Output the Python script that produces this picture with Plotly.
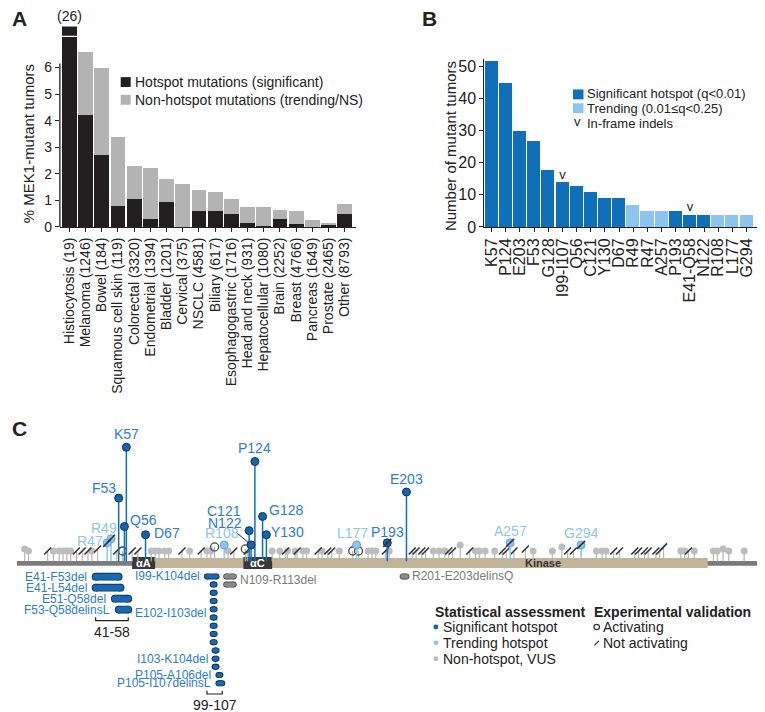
import plotly.graph_objects as go

W, H = 765, 712
def fx(px): return px / W
def fy(py): return 1 - py / H

FONT = "Arial, Liberation Sans, sans-serif"
TXT = "#222222"
BLACK_BAR = "#231f20"; GRAY_BAR = "#b3b3b3"
SIG = "#0f6fb8"; TREND = "#8cc6ee"
SIG_HEAD = "#1664ad"; SIG_EDGE = "#0b355e"
TREND_EDGE = "#62a3d6"
SIG_TXT = "#2b7dcc"; TREND_TXT = "#8fc5ec"
VUS = "#bdbdbd"; VUS_STEM = "#b5b5b5"

# ---------------- Panel A data ----------------
cancer_types = ["Histiocytosis", "Melanoma", "Bowel", "Squamous cell skin", "Colorectal",
                "Endometrial", "Bladder", "Cervical", "NSCLC", "Biliary", "Esophagogastric",
                "Head and neck", "Hepatocellular", "Brain", "Breast", "Pancreas", "Prostate", "Other"]
n_patients = [19, 1246, 184, 119, 3320, 1394, 1201, 375, 4581, 617, 1716, 931, 1080, 2252,
              4766, 1649, 2465, 8793]
hotspot_pct = [26.0, 4.2, 2.7, 0.8, 1.05, 0.3, 0.95, 0.0, 0.6, 0.6, 0.5, 0.15, 0.05, 0.3,
               0.1, 0.0, 0.08, 0.5]
nonhotspot_pct = [0.0, 2.4, 3.3, 2.6, 1.25, 1.9, 0.85, 1.62, 0.78, 0.73, 0.55, 0.6, 0.7, 0.35,
                  0.5, 0.25, 0.08, 0.35]

# ---------------- Panel B data ----------------
hotspots = ["K57", "P124", "E203", "F53", "G128", "I99-I107", "Q56", "C121", "Y130", "D67",
            "R49", "R47", "A257", "P193", "E41-Q58", "N122", "R108", "L177", "G294"]
hotspot_counts = [52, 45, 30, 27, 18, 14, 13, 11, 9, 9, 7, 5, 5, 5, 4, 4, 4, 4, 4]
hotspot_class = ["sig"] * 10 + ["trend", "trend", "trend", "sig", "sig", "sig",
                                "trend", "trend", "trend"]
indel_hotspots = ["I99-I107", "E41-Q58"]
not_activating_hotspots = ["R47", "R49", "P193", "A257", "G294"]

# ---------------- Panel C data ----------------
protein_length = 393
domains = [("Kinase", 60, 360)]
helices = [("αA", 60, 72), ("αC", 118, 133)]

vus_pos = [4, 6, 19, 22, 24, 26, 28, 39, 70, 72, 74, 77, 79, 90, 99, 101, 110, 133, 137, 141,
           145, 149, 151, 159, 168, 183, 185, 187, 194, 217, 220, 223, 231, 239, 241, 244, 249,
           269, 279, 284, 302, 305, 307, 346, 348, 353, 363, 365, 368, 371, 379, 390, 393]
vus_counts = [2, 1, 1, 1, 1, 1, 1, 1, 1, 1, 1, 1, 1, 1, 1, 1, 1, 1, 1, 1,
              1, 1, 1, 1, 1, 1, 1, 1, 1, 1, 1, 1, 4, 1, 1, 1, 1,
              1, 1, 3, 1, 1, 1, 1, 1, 1, 1, 1, 2, 1, 1, 1, 1]
not_activating_pos = [16, 31, 34, 37, 42, 52, 60, 63, 86, 96, 113, 120, 140, 146, 157, 162,
                      164, 192, 206, 208, 211, 213, 225, 227, 236, 253, 255, 259, 265, 287,
                      290, 311, 314, 322, 324, 327, 329, 333, 335, 337, 350]
not_activating_counts = [1, 1, 1, 1, 2, 1, 1, 1, 1, 1, 1, 1, 1, 1, 1, 1,
                         1, 1, 1, 1, 1, 1, 1, 1, 1, 1, 1, 1, 2, 1,
                         1, 1, 1, 1, 1, 1, 1, 1, 1, 3, 1]
activating_pos = [55, 103, 119, 175, 178]
activating_counts = [1, 3, 2, 1, 1]

del_left_names = ["E41-F53del", "E41-L54del", "E51-Q58del", "F53-Q58delinsL"]
del_left_start = [41, 41, 51, 53]
del_left_end = [53, 54, 58, 58]
del_right_names = ["I99-K104del", "E102-I103del", "I103-K104del", "P105-A106del", "P105-I107delinsL"]
del_right_start = [99, 102, 103, 105, 105]
del_right_end = [104, 103, 104, 106, 107]
del_right_counts = [1, 8, 3, 1, 1]
del_vus_names = ["N109-R113del", "R201-E203delinsQ"]
del_vus_start = [109, 201]
del_vus_end = [113, 203]
del_vus_counts = [2, 1]
indel_clusters = [(41, 58), (99, 107)]

fig = go.Figure()

# ================= Panel A =================
labelsA = [f"{c} ({n})" for c, n in zip(cancer_types, n_patients)]
xA = list(range(len(labelsA)))
fig.add_bar(x=xA, y=hotspot_pct, marker=dict(color=BLACK_BAR, line=dict(width=0)), width=0.92,
            xaxis="x", yaxis="y")
fig.add_bar(x=xA, y=nonhotspot_pct, marker=dict(color=GRAY_BAR, line=dict(width=0)), width=0.92,
            xaxis="x", yaxis="y")
fig.add_bar(x=xA, y=hotspot_pct, marker=dict(color=BLACK_BAR, line=dict(width=0)), width=0.92,
            xaxis="x", yaxis="y2")

# ================= Panel B =================
xB = list(range(len(hotspots)))
colB = [SIG if c == "sig" else TREND for c in hotspot_class]
fig.add_bar(x=xB, y=hotspot_counts, marker=dict(color=colB, line=dict(width=0)), width=0.92,
            xaxis="x2", yaxis="y3")
ind_x = [i for i, h in enumerate(hotspots) if h in indel_hotspots]
ind_y = [hotspot_counts[i] for i in ind_x]
fig.add_scatter(x=ind_x, y=ind_y, mode="text", text=["v"] * len(ind_x),
                textposition="top center", textfont=dict(size=13, color=TXT, family=FONT),
                xaxis="x2", yaxis="y3")

# ================= Panel C =================
def res_num(name):
    return int("".join(ch for ch in name[1:] if ch.isdigit()))

STEM_BASE = -4
lol = [(h, res_num(h), c, k) for h, c, k in zip(hotspots, hotspot_counts, hotspot_class)
       if h not in indel_hotspots]

def stems(positions, counts):
    xs, ys = [], []
    for p, c in zip(positions, counts):
        xs += [p, p, None]
        ys += [STEM_BASE, c, None]
    return xs, ys

allg_pos = vus_pos + not_activating_pos + activating_pos
allg_cnt = vus_counts + not_activating_counts + activating_counts
sx, sy = stems(allg_pos, allg_cnt)
fig.add_scatter(x=sx, y=sy, mode="lines", line=dict(color=VUS_STEM, width=1.2),
                xaxis="x3", yaxis="y4")
fig.add_scatter(x=vus_pos, y=vus_counts, mode="markers",
                marker=dict(color=VUS, size=7, line=dict(width=0)), xaxis="x3", yaxis="y4")
fig.add_scatter(x=not_activating_pos, y=not_activating_counts, mode="markers",
                marker=dict(symbol="line-ne", size=7, line=dict(width=1.6, color="#333333")),
                xaxis="x3", yaxis="y4")
fig.add_scatter(x=activating_pos, y=activating_counts, mode="markers",
                marker=dict(symbol="circle-open", size=8, color="#444444", line=dict(width=1.3)),
                xaxis="x3", yaxis="y4")

for cls, scol, fcol, ecol in [("trend", TREND, TREND, TREND_EDGE), ("sig", SIG, SIG_HEAD, SIG_EDGE)]:
    items = [t for t in lol if t[3] == cls]
    sx, sy = stems([t[1] for t in items], [t[2] for t in items])
    fig.add_scatter(x=sx, y=sy, mode="lines", line=dict(color=scol, width=1.5),
                    xaxis="x3", yaxis="y4")
    fig.add_scatter(x=[t[1] for t in items], y=[t[2] for t in items], mode="markers",
                    marker=dict(color=fcol, size=8, line=dict(width=1, color=ecol)),
                    xaxis="x3", yaxis="y4")

na_items = [t for t in lol if t[0] in not_activating_hotspots]
fig.add_scatter(x=[t[1] for t in na_items], y=[t[2] for t in na_items], mode="markers",
                marker=dict(symbol="line-ne", size=8, line=dict(width=1.6, color="#333333")),
                xaxis="x3", yaxis="y4")

def pill_traces(starts, ends, rows, fill, edge, w, yaxis):
    xs, ys = [], []
    for s, e, r in zip(starts, ends, rows):
        xs += [s, e, None]
        ys += [r, r, None]
    fig.add_scatter(x=xs, y=ys, mode="lines+markers", line=dict(color=edge, width=w + 1.8),
                    marker=dict(color=edge, size=w + 1.8), xaxis="x3", yaxis=yaxis)
    fig.add_scatter(x=xs, y=ys, mode="lines+markers", line=dict(color=fill, width=w),
                    marker=dict(color=fill, size=w), xaxis="x3", yaxis=yaxis)

DEL_FILL = "#1a68b0"; DEL_EDGE = "#0d3458"
left_rows = list(range(len(del_left_names)))
pill_traces(del_left_start, del_left_end, left_rows, DEL_FILL, DEL_EDGE, 6, "y5")

r_starts, r_ends, r_rows, r_centers = [], [], [], []
row = 0
for s, e, n in zip(del_right_start, del_right_end, del_right_counts):
    r_centers.append(row + (n - 1) / 2)
    for _ in range(n):
        r_starts.append(s); r_ends.append(e); r_rows.append(row)
        row += 1
pill_traces(r_starts, r_ends, r_rows, DEL_FILL, DEL_EDGE, 4.2, "y6")

g_starts, g_ends, g_rows, g_centers = [], [], [], []
for s, e, n in zip(del_vus_start, del_vus_end, del_vus_counts):
    g_centers.append((n - 1) / 2)
    for k in range(n):
        g_starts.append(s); g_ends.append(e); g_rows.append(k)
pill_traces(g_starts, g_ends, g_rows, "#8a8a8a", "#555555", 4.2, "y6")

# ================= Layout =================
annotations = []
shapes = []

def ann(**kw):
    base = dict(showarrow=False, xanchor="center", yanchor="middle",
                font=dict(family=FONT, size=14, color=TXT))
    if "font" in kw:
        f = dict(base["font"]); f.update(kw.pop("font")); base["font"] = f
    base.update(kw)
    annotations.append(base)

# panel letters
ann(x=fx(10), y=fy(11), xref="paper", yref="paper", text="<b>A</b>", font=dict(size=21))
ann(x=fx(421), y=fy(11), xref="paper", yref="paper", text="<b>B</b>", font=dict(size=21))
ann(x=fx(10), y=fy(426), xref="paper", yref="paper", text="<b>C</b>", font=dict(size=21))

# A axis line, break label, titles, legend
shapes.append(dict(type="line", xref="paper", yref="y", x0=fx(50), x1=fx(50), y0=0, y1=6.15,
                   line=dict(color=TXT, width=1.3)))
ann(x=0, y=hotspot_pct[0] + nonhotspot_pct[0], xref="x", yref="y2", yanchor="bottom", yshift=0,
    text=f"({hotspot_pct[0] + nonhotspot_pct[0]:g})")
ann(x=fx(18), y=fy(137), xref="paper", yref="paper", text="% MEK1-mutant tumors",
    textangle=-90, font=dict(size=15))
shapes.append(dict(type="rect", xref="paper", yref="paper", x0=fx(111), x1=fx(121), y0=fy(80),
                   y1=fy(70), fillcolor=BLACK_BAR, line=dict(width=0)))
shapes.append(dict(type="rect", xref="paper", yref="paper", x0=fx(111), x1=fx(121), y0=fy(98),
                   y1=fy(88), fillcolor=GRAY_BAR, line=dict(width=0)))
ann(x=fx(123), y=fy(74.5), xref="paper", yref="paper", xanchor="left",
    text="Hotspot mutations (significant)")
ann(x=fx(123), y=fy(93), xref="paper", yref="paper", xanchor="left",
    text="Non-hotspot mutations (trending/NS)")

# B titles and legend
ann(x=fx(441), y=fy(140), xref="paper", yref="paper", text="Number of mutant tumors",
    textangle=-90, font=dict(size=15))
shapes.append(dict(type="rect", xref="paper", yref="paper", x0=fx(564.5), x1=fx(575), y0=fy(92.5),
                   y1=fy(82.5), fillcolor=SIG, line=dict(width=0)))
shapes.append(dict(type="rect", xref="paper", yref="paper", x0=fx(564.5), x1=fx(575), y0=fy(106.5),
                   y1=fy(96.5), fillcolor=TREND, line=dict(width=0)))
ann(x=fx(576.5), y=fy(87), xref="paper", yref="paper", xanchor="left",
    text="Significant hotspot (q<0.01)", font=dict(size=13))
ann(x=fx(576.5), y=fy(101.5), xref="paper", yref="paper", xanchor="left",
    text="Trending (0.01≤q<0.25)", font=dict(size=13))
ann(x=fx(569), y=fy(115), xref="paper", yref="paper", text="v", font=dict(size=13))
ann(x=fx(576.5), y=fy(116.5), xref="paper", yref="paper", xanchor="left",
    text="In-frame indels", font=dict(size=13))

# C backbone
shapes.append(dict(type="rect", xref="x3", yref="y4", x0=0, x1=protein_length, y0=-3.9, y1=-6.3,
                   fillcolor="#7b7b7b", line=dict(width=0), layer="below"))
for name, s, e in domains:
    shapes.append(dict(type="rect", xref="x3", yref="y4", x0=s, x1=e, y0=-2.4, y1=-7.3,
                       fillcolor="#c3b497", line=dict(width=0), layer="below"))
    ann(x=274, y=-4.85, xref="x3", yref="y4", text=f"<b>{name}</b>",
        font=dict(size=11, color="#333333"))
for name, s, e in helices:
    shapes.append(dict(type="rect", xref="x3", yref="y4", x0=s, x1=e, y0=-1.9, y1=-7.8,
                       fillcolor="#383838", line=dict(width=0), layer="below"))
    ann(x=(s + e) / 2, y=-4.85, xref="x3", yref="y4", text=f"<b>{name}</b>",
        font=dict(size=11, color="white"))

label_style = {
    "K57": dict(xanchor="center", yanchor="bottom", xshift=0, yshift=3),
    "P124": dict(xanchor="center", yanchor="bottom", xshift=0, yshift=3),
    "E203": dict(xanchor="center", yanchor="bottom", xshift=0, yshift=3),
    "F53": dict(xanchor="right", yanchor="middle", xshift=-1, yshift=10),
    "G128": dict(xanchor="left", yanchor="middle", xshift=4, yshift=6),
    "Q56": dict(xanchor="left", yanchor="middle", xshift=4, yshift=7),
    "C121": dict(xanchor="right", yanchor="middle", xshift=-6, yshift=20),
    "Y130": dict(xanchor="left", yanchor="middle", xshift=3, yshift=3),
    "D67": dict(xanchor="left", yanchor="middle", xshift=6, yshift=2),
    "R49": dict(xanchor="center", yanchor="middle", xshift=-7, yshift=11),
    "R47": dict(xanchor="right", yanchor="middle", xshift=-2, yshift=2),
    "R108": dict(xanchor="center", yanchor="bottom", xshift=-2, yshift=2),
    "L177": dict(xanchor="center", yanchor="bottom", xshift=-4, yshift=2),
    "P193": dict(xanchor="center", yanchor="bottom", xshift=0, yshift=1),
    "A257": dict(xanchor="center", yanchor="bottom", xshift=0, yshift=2),
    "G294": dict(xanchor="center", yanchor="bottom", xshift=0, yshift=2),
}
for h, p, c, k in lol:
    col = SIG_TXT if k == "sig" else TREND_TXT
    if h == "N122":
        annotations.append(dict(x=p, y=c, xref="x3", yref="y4", text=h, showarrow=True,
                                ax=-26, ay=-22, arrowhead=0, arrowwidth=1, arrowcolor=TXT,
                                standoff=3, font=dict(family=FONT, size=14, color=col)))
    else:
        ann(x=p, y=c, xref="x3", yref="y4", text=h, font=dict(color=col), **label_style[h])

for nm, s, r in zip(del_left_names, del_left_start, left_rows):
    ann(x=s, y=r, xref="x3", yref="y5", text=nm, xanchor="right", xshift=-7,
        font=dict(size=12, color=SIG_TXT))
for nm, s, rc in zip(del_right_names, del_right_start, r_centers):
    ann(x=s, y=rc, xref="x3", yref="y6", text=nm, xanchor="right", xshift=-5,
        font=dict(size=12, color=SIG_TXT))
for nm, e, rc in zip(del_vus_names, del_vus_end, g_centers):
    ann(x=e, y=rc, xref="x3", yref="y6", text=nm, xanchor="left", xshift=4,
        font=dict(size=12, color="#7a7a7a"))

for (s, e), yax, rowb in [(indel_clusters[0], "y5", 4.0), (indel_clusters[1], "y6", 14.3)]:
    dr = 0.3 if yax == "y5" else 0.4
    shapes.append(dict(type="path", xref="x3", yref=yax,
                       path=f"M {s} {rowb - dr} L {s} {rowb} L {e} {rowb} L {e} {rowb - dr}",
                       line=dict(color=TXT, width=1.2)))
    ann(x=(s + e) / 2, y=rowb, xref="x3", yref=yax, yanchor="top", yshift=-1,
        text=f"{s}-{e}", font=dict(size=14))

# C legend
ann(x=fx(424), y=fy(612), xref="paper", yref="paper", xanchor="left",
    text="<b>Statistical assessment</b>")
ann(x=fx(584), y=fy(612), xref="paper", yref="paper", xanchor="left",
    text="<b>Experimental validation</b>")
for lbl, col, yy in [("Significant hotspot", SIG_HEAD, 627), ("Trending hotspot", TREND, 643),
                     ("Non-hotspot, VUS", VUS, 659)]:
    shapes.append(dict(type="circle", xref="paper", yref="paper", x0=fx(424.5), x1=fx(429.5),
                       y0=fy(yy + 2.5), y1=fy(yy - 2.5), fillcolor=col, line=dict(width=0)))
    ann(x=fx(432), y=fy(yy), xref="paper", yref="paper", xanchor="left", text=lbl)
shapes.append(dict(type="circle", xref="paper", yref="paper", x0=fx(585.5), x1=fx(591),
                   y0=fy(629.7), y1=fy(624.2), line=dict(color="#333333", width=1.2)))
ann(x=fx(593), y=fy(627), xref="paper", yref="paper", xanchor="left", text="Activating")
shapes.append(dict(type="line", xref="paper", yref="paper", x0=fx(586), x1=fx(590.5),
                   y0=fy(645.5), y1=fy(641), line=dict(color="#333333", width=1.3)))
ann(x=fx(593), y=fy(643.5), xref="paper", yref="paper", xanchor="left", text="Not activating")

ax_common = dict(showgrid=False, zeroline=False)
fig.update_layout(
    width=W, height=H, margin=dict(l=0, r=0, t=0, b=0),
    paper_bgcolor="white", plot_bgcolor="rgba(0,0,0,0)",
    showlegend=False, barmode="stack", bargap=0,
    font=dict(family=FONT, color=TXT, size=14),
    xaxis=dict(domain=[fx(50), fx(347)], range=[-0.585, 17.71], anchor="y",
               tickmode="array", tickvals=xA, ticktext=labelsA, tickangle=-90,
               ticks="outside", ticklen=4, tickwidth=1.2, tickcolor=TXT,
               showline=True, linecolor=TXT, linewidth=1.3, tickfont=dict(size=14),
               **ax_common),
    yaxis=dict(domain=[fy(221.7), fy(29.4)], range=[0, 7.15], anchor="x",
               tickmode="array", tickvals=[0, 1, 2, 3, 4, 5, 6], ticks="outside", ticklen=4,
               tickwidth=1.2, tickcolor=TXT, showline=False, tickfont=dict(size=14), **ax_common),
    yaxis2=dict(domain=[fy(28), fy(18.7)], range=[25.654, 26.0], anchor="x", visible=False,
                **ax_common),
    xaxis2=dict(domain=[fx(475.7), fx(750)], range=[-0.51, 18.81], anchor="y3",
                tickmode="array", tickvals=xB, ticktext=hotspots, tickangle=-90,
                ticks="outside", ticklen=4, tickwidth=1.2, tickcolor=TXT,
                showline=True, linecolor=TXT, linewidth=1.3, tickfont=dict(size=16), **ax_common),
    yaxis3=dict(domain=[fy(221.7), fy(51.2)], range=[0, 52.5], anchor="x2",
                tickmode="array", tickvals=[0, 10, 20, 30, 40, 50], ticks="outside", ticklen=4,
                tickwidth=1.2, tickcolor=TXT, showline=True, linecolor=TXT, linewidth=1.3,
                tickfont=dict(size=16), **ax_common),
    xaxis3=dict(domain=[fx(7), fx(763)], range=[0, protein_length], anchor="y4", visible=False,
                **ax_common),
    yaxis4=dict(domain=[fy(568.5), fy(432.5)], range=[-8, 58], anchor="x3", visible=False,
                **ax_common),
    yaxis5=dict(domain=[fy(640.4), fy(567.1)], range=[5.8, -0.8], anchor="x3", visible=False,
                **ax_common),
    yaxis6=dict(domain=[fy(710.6), fy(569)], range=[16.2, -0.8], anchor="x3", visible=False,
                **ax_common),
    annotations=annotations, shapes=shapes,
)

fig.write_html("out.html")
